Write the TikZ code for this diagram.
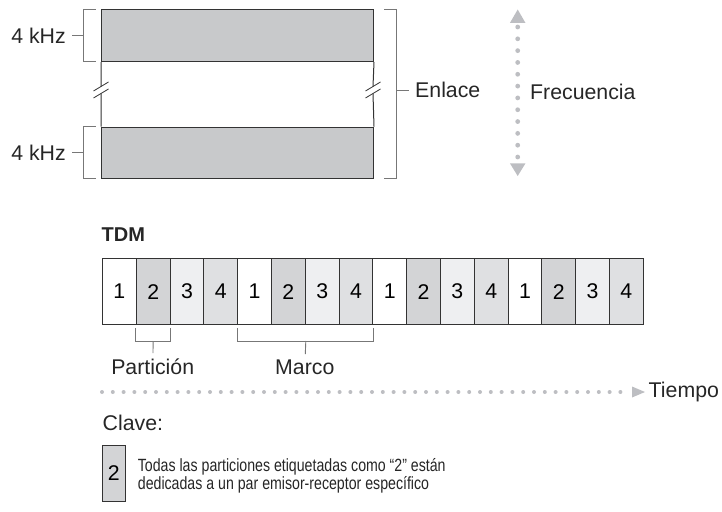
\documentclass[tikz,border=0pt]{standalone}
\usepackage{fontspec}
\setmainfont{Liberation Sans}
\newfontfamily\narrowfont[FakeStretch=0.8]{Liberation Sans}
\usetikzlibrary{positioning}

\definecolor{bandgray}{HTML}{C8C9CB}
\definecolor{slottwo}{HTML}{D3D4D6}
\definecolor{slotthree}{HTML}{EEEFF1}
\definecolor{slotfour}{HTML}{DFE0E2}
\definecolor{dotgray}{HTML}{BDBEC2}
\definecolor{framegray}{HTML}{333333}
\definecolor{bracegray}{HTML}{777777}

\begin{document}
\begin{tikzpicture}[x=1pt,y=-1pt,
      lbl/.style={font=\fontsize{21.3}{25}\selectfont,inner sep=0pt,text=black!85},
      band/.style={draw=framegray,fill=bandgray,line width=1pt,inner sep=0pt,
        minimum width=272pt,minimum height=51.7pt,anchor=north west},
      slot/.style={draw=framegray,line width=1pt,inner sep=0pt,anchor=north west,
        minimum width=33.8pt,minimum height=65.7pt,font=\fontsize{21.3}{25}\selectfont},
      p1/.style={fill=white}, p2/.style={fill=slottwo},
      p3/.style={fill=slotthree}, p4/.style={fill=slotfour},
      brace/.style={draw=bracegray,line width=0.9pt}]
  \useasboundingbox (0,0) rectangle (722,511);
  % enlace: two 4 kHz bands
  \node[band] (hi) at (101,9.3) {};
  \node[band] (lo) at (101,126.7) {};
  \draw[framegray,line width=1pt] (hi.south west) -- (101,86.3)
    (101,93.8) -- (lo.north west) (hi.south east) -- (373,86.3)
    (373,93.8) -- (lo.north east);
  \draw[framegray,line width=0.8pt] (93.5,91) -- (108.5,82) (93.5,98) -- (108.5,89)
    (365.5,91) -- (380.5,82) (365.5,98) -- (380.5,89);
  % left brackets
  \node[lbl,anchor=east] (khzA) at (66,35.5) {4 kHz};
  \node[lbl,anchor=east] (khzB) at (66,152.7) {4 kHz};
  \draw[brace] (95.7,9.3) -| (83.3,61) -- (95.7,61);
  \draw[brace] (95.7,126.7) -| (83.3,178.3) -- (95.7,178.3);
  \coordinate (bA) at (83.3,35.5);
  \coordinate (bB) at (83.3,152.7);
  \draw[brace,shorten <=6pt] (khzA) -- (bA);
  \draw[brace,shorten <=6pt] (khzB) -- (bB);
  % right bracket
  \draw[brace] (384,9.3) -| (396,178.3) -- (384,178.3);
  \node[lbl,anchor=west] (enl) at (415,90) {Enlace};
  \coordinate (bE) at (396,90);
  \draw[brace,shorten >=6pt] (bE) -- (enl);
  % frecuencia
  \coordinate (fqtop) at (517.7,9.5);
  \coordinate (fqbot) at (517.7,176);
  \fill[dotgray] (fqtop) -- ++(7.8,13.5) -- ++(-15.6,0) -- cycle;
  \fill[dotgray] (fqbot) -- ++(7.8,-12.7) -- ++(-15.6,0) -- cycle;
  \foreach \k in {0,...,11}
    \fill[dotgray] (517.7,{27+\k*11.82}) circle (2.4);
  \node[lbl,anchor=west] (frq) at (530,91.7) {Frecuencia};

  % TDM
  \node[lbl,font=\bfseries\fontsize{20}{24}\selectfont,anchor=west] (tdm) at (101.5,235) {TDM};
  \foreach \n [count=\i] in {1,2,3,4,1,2,3,4,1,2,3,4,1,2,3,4}
    \node[slot,p\n] (s\i) at ({102+(\i-1)*33.8},258.3) {\n};
  % particion and marco
  \draw[brace] ([yshift=-3pt]s2.south west) -- ++(0,13) -| ([yshift=-3pt]s2.south east);
  \draw[brace] ([yshift=-3pt]s5.south west) -- ++(0,13) -| ([yshift=-3pt]s8.south east);
  \node[lbl,anchor=base] (part) at (152.7,374) {Partición};
  \node[lbl,anchor=base] (marco) at (304.8,374) {Marco};
  \draw[brace,shorten >=5pt] ([yshift=-16pt]s2.south) -- (part);
  \draw[brace,shorten >=5pt] ([yshift=-16pt]s6.south east) -- (marco);
  % tiempo
  \foreach \k in {0,...,48}
    \fill[dotgray] ({102+\k*10.8},392) circle (2);
  \coordinate (tend) at (645,392);
  \fill[dotgray] (tend) -- ++(-13,-5.5) -- ++(0,11) -- cycle;
  \node[lbl,anchor=west] (tmp) at (648.5,392) {Tiempo};

  % clave
  \node[lbl,anchor=base west] (clave) at (102.5,430) {Clave:};
  \node[slot,p2,minimum width=23.3pt,minimum height=55.7pt] (key) at (101.7,445) {2};
  \node[anchor=west,inner sep=0pt,align=left,text=black!85,
    font=\narrowfont\fontsize{17.7}{18.5}\selectfont] (keytxt) at (137.7,476)
    {Todas las particiones etiquetadas como “2” están\\
     dedicadas a un par emisor-receptor específico};
\end{tikzpicture}
\end{document}
